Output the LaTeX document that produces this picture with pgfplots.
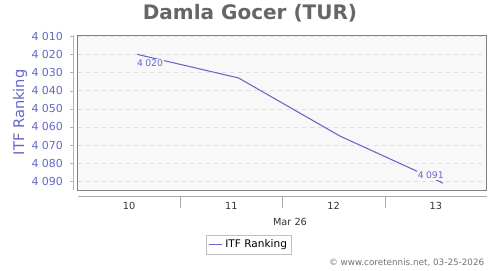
\documentclass[border=0pt]{standalone}
\usepackage{pgfplots}
\pgfplotsset{compat=1.18}
\usepackage{fontspec}
\setmainfont{DejaVu Sans}
\definecolor{lineblue}{HTML}{6666CC}
\definecolor{titlegray}{HTML}{666666}
\definecolor{bgcol}{HTML}{F8F8F8}
\definecolor{boxgray}{HTML}{808080}
\definecolor{gridgray}{HTML}{DDDDDD}
\definecolor{yaxiscol}{HTML}{B0B0E0}
\definecolor{xaxiscol}{HTML}{AAAAAA}
\begin{document}
\begin{tikzpicture}
\path (0,0) rectangle (375pt,202.5pt);
\begin{axis}[
  at={(58.5pt,60pt)}, anchor=south west,
  scale only axis, width=306.75pt, height=116.25pt,
  xmin=9.5, xmax=13.5,
  ymin=4009.5, ymax=4095, y dir=reverse,
  axis x line*=bottom, axis y line*=left,
  axis x line shift=4.5pt, axis y line shift=3.75pt,
  x axis line style={draw=xaxiscol, -},
  y axis line style={draw=yaxiscol, -},
  axis background/.style={fill=bgcol},
  ytick={4010,4020,...,4090},
  ymajorgrids, grid style={draw=gridgray, dashed, line width=0.4pt},
  y tick style={draw=yaxiscol},
  ytick align=outside,
  /pgf/number format/assume math mode=true,
  /pgf/number format/1000 sep={\hspace{0.3em}},
  yticklabel style={font=\fontsize{8.25pt}{9pt}\selectfont, text=lineblue, xshift=-2pt},
  xtick={10,11,12,13},
  x tick style={draw=none},
  xtick align=outside, xmajorgrids=false,
  major tick length=2pt,
  extra x ticks={10.5,11.5,12.5},
  extra x tick labels={},
  extra x tick style={major tick length=9pt, grid=none, x tick style={draw=xaxiscol}},
  xticklabel style={font=\fontsize{7.3pt}{8pt}\selectfont, text=black!80, yshift=1pt},
  legend style={at={(0.418,-0.352)}, anchor=center, draw=black!25,
    font=\fontsize{7.9pt}{9pt}\selectfont, inner sep=1.5pt},
  legend image code/.code={\draw[#1] (0pt,0pt) -- (10pt,0pt);},
  clip=false,
]
\addplot[lineblue, line width=0.8pt] coordinates {
  (10.08,4020) (11.07,4033) (12.06,4065) (13.07,4091)
};
\addlegendentry{ITF Ranking}
\draw[boxgray, line width=0.75pt] (rel axis cs:0,0) rectangle (rel axis cs:1,1);
\node[fill=bgcol, inner sep=0.8pt, text=lineblue, font=\fontsize{6.9pt}{8pt}\selectfont] at (axis cs:10.205,4024.9) {4\hspace{0.25em}020};
\node[fill=bgcol, inner sep=0.8pt, text=lineblue, font=\fontsize{6.9pt}{8pt}\selectfont] at (axis cs:12.95,4086.7) {4\hspace{0.25em}091};
\end{axis}
\node[font=\bfseries\fontsize{15pt}{17pt}\selectfont, text=titlegray] at (187.5pt,192.75pt) {Damla Gocer (TUR)};
\node[rotate=90, font=\fontsize{11pt}{13pt}\selectfont, text=lineblue] at (15pt,118.5pt) {ITF Ranking};
\node[font=\fontsize{7.3pt}{8pt}\selectfont, text=black!80] at (217.5pt,36pt) {Mar 26};
\node[anchor=east, font=\fontsize{6.6pt}{8pt}\selectfont, text=black!55] at (366.75pt,5.75pt) {© www.coretennis.net, 03-25-2026};
\end{tikzpicture}
\end{document}
